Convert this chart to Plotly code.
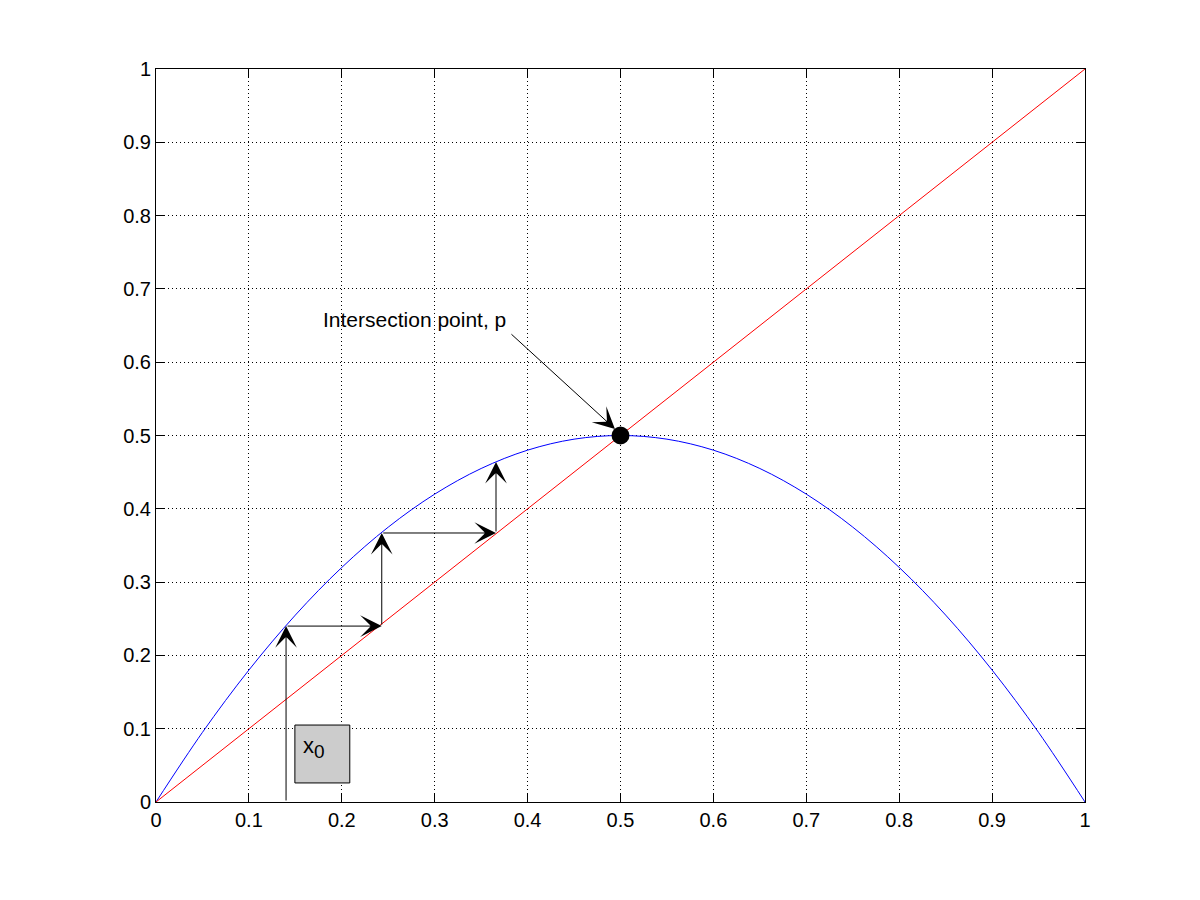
import plotly.graph_objects as go

# --- data ---
curve_x = [0.0, 0.05, 0.1, 0.15, 0.2, 0.25, 0.3, 0.35, 0.4, 0.45, 0.5,
           0.55, 0.6, 0.65, 0.7, 0.75, 0.8, 0.85, 0.9, 0.95, 1.0]
curve_y = [0.0, 0.095, 0.18, 0.255, 0.32, 0.375, 0.42, 0.455, 0.48, 0.495, 0.5,
           0.495, 0.48, 0.455, 0.42, 0.375, 0.32, 0.255, 0.18, 0.095, 0.0]
diag_x = [0.0, 1.0]
diag_y = [0.0, 1.0]
cob_x = [0.14, 0.14, 0.243, 0.243, 0.366, 0.366]
cob_y = [0.0, 0.24, 0.24, 0.367, 0.367, 0.464]
fixed_x = [0.5]
fixed_y = [0.5]
label_text = "Intersection point, p"
label_pos = (0.178, 0.658)
label_arrow_start = (0.381, 0.640)
label_arrow_tip = (0.494, 0.509)
box_x = (0.1495, 0.2086)
box_y = (0.026, 0.105)
box_label = "x<sub><span style='font-size:19px'>0</span></sub>"
tick_vals = [0, 0.1, 0.2, 0.3, 0.4, 0.5, 0.6, 0.7, 0.8, 0.9, 1]
tick_text = ["0", "0.1", "0.2", "0.3", "0.4", "0.5", "0.6", "0.7", "0.8", "0.9", "1"]

FONT = "Liberation Sans, Arial, sans-serif"

fig = go.Figure()
fig.add_trace(go.Scatter(x=curve_x, y=curve_y, mode="lines",
                         line=dict(color="#0000ff", width=1, shape="spline"),
                         hoverinfo="skip"))
fig.add_trace(go.Scatter(x=diag_x, y=diag_y, mode="lines",
                         line=dict(color="#ff0000", width=1), hoverinfo="skip"))
fig.add_trace(go.Scatter(x=fixed_x, y=fixed_y, mode="markers",
                         marker=dict(color="black", size=18, line=dict(width=0)),
                         hoverinfo="skip"))

annotations = []
for i in range(len(cob_x) - 1):
    annotations.append(dict(
        x=cob_x[i + 1], y=cob_y[i + 1], ax=cob_x[i], ay=cob_y[i],
        xref="x", yref="y", axref="x", ayref="y", text="",
        showarrow=True, arrowhead=3, arrowsize=3.6, arrowwidth=1,
        arrowcolor="black"))

annotations.append(dict(
    x=label_arrow_tip[0], y=label_arrow_tip[1],
    ax=label_arrow_start[0], ay=label_arrow_start[1],
    xref="x", yref="y", axref="x", ayref="y", text="",
    showarrow=True, arrowhead=3, arrowsize=3.6, arrowwidth=1, arrowcolor="black"))

annotations.append(dict(
    x=label_pos[0], y=label_pos[1], xref="x", yref="y", text=label_text,
    showarrow=False, xanchor="left", yanchor="middle",
    font=dict(family=FONT, size=21, color="black")))

annotations.append(dict(
    x=box_x[0] + 0.007, y=box_y[1] - 0.008, xref="x", yref="y", text=box_label,
    showarrow=False, xanchor="left", yanchor="top",
    font=dict(family=FONT, size=22, color="black")))

fig.add_shape(type="rect", xref="x", yref="y",
              x0=box_x[0], x1=box_x[1], y0=box_y[0], y1=box_y[1],
              fillcolor="#cccccc", line=dict(color="black", width=1), layer="above")

axis_common = dict(
    range=[0, 1], tickvals=tick_vals, ticktext=tick_text,
    ticks="inside", ticklen=9, tickwidth=1, tickcolor="black",
    showline=True, linecolor="black", linewidth=1, mirror="ticks",
    showgrid=True, gridcolor="black", gridwidth=1, griddash="1px,3px",
    zeroline=False, tickfont=dict(family=FONT, size=20, color="black"),
)

fig.update_layout(
    width=1200, height=900,
    margin=dict(l=148, r=123, t=61, b=106),
    paper_bgcolor="white", plot_bgcolor="white",
    showlegend=False,
    xaxis=dict(**axis_common),
    yaxis=dict(**axis_common),
    annotations=annotations,
)

fig.write_html("out.html")
